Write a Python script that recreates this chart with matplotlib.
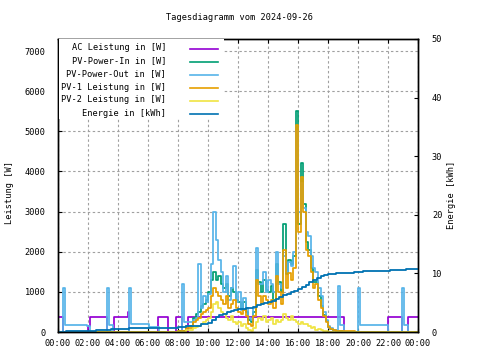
import numpy as np
import matplotlib
matplotlib.use('Agg')
import matplotlib.pyplot as plt
from matplotlib.patches import Rectangle
from matplotlib.lines import Line2D

# --- data (hours of day, W / kWh) ---
# day grid: 09:00 .. 18:30 in 10 min steps
day_t = [9 + i / 6 for i in range(58)]

ac_t = [0, 0.33, 2.0, 2.13, 3.27, 3.73, 4.67, 4.73, 6.67, 7.33, 7.87, 8.27, 8.67,
        19.07, 22.0, 22.93, 23.33, 24]
ac_v = [370, 0, 150, 370, 0, 370, 500, 0, 370, 0, 370, 0, 370,
        0, 370, 0, 370, 370]

pv_in_pre_t = [0, 8.0, 8.5]
pv_in_pre_v = [0, 30, 150]
pv_in_day = [350, 450, 500, 650, 700, 800, 1000, 1300, 1500, 1300,
             1400, 1200, 1100, 1200, 900, 1100, 1000, 800, 750, 600,
             750, 500, 300, 250, 500, 1550, 1250, 1000, 1300, 1050,
             1000, 1150, 800, 1700, 1250, 1000, 2700, 1450, 1800, 1700,
             1900, 5500, 2700, 4200, 3200, 2250, 2050, 1600, 1250, 1250,
             900, 650, 430, 270, 130, 80, 50, 20]
pv_in_eve_t = [18.67, 19.0, 24]
pv_in_eve_v = [20, 0, 0]

pv_out_pre_t = [0, 0.33, 0.45, 1.93, 2.13, 3.27, 3.4, 3.67, 4.73, 4.85, 6.07, 6.73, 8.27, 8.4]
pv_out_pre_v = [0, 1100, 175, 150, 0, 1100, 175, 0, 1100, 200, 125, 0, 1200, 250]
pv_out_day = [300, 350, 1700, 600, 900, 750, 950, 1700, 3000, 2300,
              1800, 1500, 1000, 1400, 800, 1100, 1650, 750, 1000, 550,
              850, 600, 350, 300, 600, 2100, 1200, 1200, 1500, 1000,
              1300, 1200, 1000, 2000, 1200, 1100, 1900, 1500, 1750, 1650,
              2000, 5000, 3000, 3700, 3100, 2500, 2400, 1900, 1600, 1500,
              1100, 900, 500, 300, 150, 100, 60, 30]
pv_out_eve_t = [18.67, 18.8, 19.07, 20.0, 20.13, 22.0, 22.93, 23.07, 23.33, 24]
pv_out_eve_v = [1150, 175, 0, 1100, 175, 0, 1100, 175, 0, 0]

pv1_pre_t = [0, 7.4, 8.0, 8.5]
pv1_pre_v = [0, 10, 30, 100]
pv1_day = [250, 300, 350, 450, 500, 550, 600, 900, 1100, 1000,
           900, 800, 700, 900, 600, 700, 800, 600, 500, 450,
           550, 400, 200, 150, 400, 1300, 900, 700, 900, 800,
           700, 800, 600, 1400, 1000, 700, 2050, 1100, 1470, 1300,
           1600, 5150, 2500, 3870, 3000, 2050, 1900, 1500, 1100, 1200,
           800, 600, 400, 250, 120, 80, 50, 30]
pv1_eve_t = [18.67, 19.8, 24]
pv1_eve_v = [20, 0, 0]

pv2_pre_t = [0, 8.5]
pv2_pre_v = [0, 50]
pv2_day = [100, 120, 150, 200, 250, 300, 350, 500, 700, 750,
           600, 500, 450, 350, 300, 400, 250, 200, 250, 150,
           200, 100, 50, 30, 100, 250, 350, 300, 400, 250,
           300, 350, 200, 300, 250, 300, 450, 350, 300, 400,
           300, 250, 200, 250, 200, 200, 150, 100, 120, 60,
           80, 40, 30, 20, 10, 0, 0, 0]
pv2_eve_t = [18.67, 24]
pv2_eve_v = [0, 0]

energy_t = [0, 0.5, 1.3, 2.5, 3.5, 4.7, 6.0, 7.0, 8.0, 8.5, 9.0, 9.5, 10.0, 10.25,
            10.5, 10.75, 11.0, 11.25, 11.5, 11.75, 12.0, 12.5, 13.0, 13.25, 13.5,
            13.75, 14.0, 14.25, 14.5, 14.75, 15.0, 15.25, 15.5, 15.75, 16.0, 16.25,
            16.5, 16.75, 17.0, 17.25, 17.5, 17.75, 18.0, 18.5, 19.3, 19.7, 20.3,
            21.3, 22.1, 23.2, 24]
energy_v = [0, 0.1, 0.2, 0.35, 0.5, 0.6, 0.7, 0.75, 0.85, 0.95, 1.1, 1.3, 1.6, 2.1,
            2.6, 2.9, 3.1, 3.35, 3.6, 3.75, 3.9, 4.05, 4.3, 4.55, 4.8,
            4.95, 5.1, 5.35, 5.6, 5.95, 6.3, 6.55, 6.8, 7.05, 7.3, 7.7,
            8.1, 8.5, 8.9, 9.25, 9.6, 9.8, 9.9, 10.0, 10.15, 10.25, 10.35,
            10.45, 10.55, 10.7, 10.7]

labels = ['AC Leistung in [W]', 'PV-Power-In in [W]', 'PV-Power-Out in [W]',
          'PV-1 Leistung in [W]', 'PV-2 Leistung in [W]', 'Energie in [kWh]']
colors = ['#9400d3', '#009e73', '#56b4e9', '#e69f00', '#f0e442', '#0072b2']

FONT = 'DejaVu Sans Mono'
FS = 6.2
W, H = 480, 360


def fx(px):
    return px / W


def fy(py):
    return 1 - py / H


def join(pre_t, pre_v, day_v, eve_t, eve_v):
    return pre_t + day_t + eve_t, pre_v + day_v + eve_v


def main():
    plt.rcParams['font.family'] = FONT
    fig = plt.figure(figsize=(4.8, 3.6), dpi=100)
    ax = fig.add_axes([fx(58), fy(332), fx(360), 293 / H])
    ax2 = ax.twinx()

    series = [
        (ac_t, ac_v),
        join(pv_in_pre_t, pv_in_pre_v, pv_in_day, pv_in_eve_t, pv_in_eve_v),
        join(pv_out_pre_t, pv_out_pre_v, pv_out_day, pv_out_eve_t, pv_out_eve_v),
        join(pv1_pre_t, pv1_pre_v, pv1_day, pv1_eve_t, pv1_eve_v),
        join(pv2_pre_t, pv2_pre_v, pv2_day, pv2_eve_t, pv2_eve_v),
    ]
    for (t, v), c in zip(series, colors):
        ax.step(t, v, where='post', color=c, lw=1.25)
    ax2.step(energy_t, energy_v, where='post', color=colors[5], lw=1.3)

    ax.set_xlim(0, 24)
    ax.set_ylim(0, 7300)
    ax2.set_ylim(0, 50)
    ax.set_xticks(range(0, 25, 2))
    ax.set_xticklabels(['%02d:00' % (h % 24) for h in range(0, 25, 2)])
    ax.set_yticks(range(0, 7001, 1000))
    ax2.set_yticks(range(0, 51, 10))
    ax.grid(True, color='#a0a0a0', linestyle=(0, (2.2, 2.2)), lw=0.8)
    ax.set_axisbelow(True)

    ax.tick_params(axis='x', direction='in', length=3, pad=5, labelsize=FS, top=True)
    ax.tick_params(axis='y', direction='in', length=3, pad=9, labelsize=FS)
    ax2.tick_params(axis='y', direction='in', length=3, pad=10, labelsize=FS)
    for a in (ax, ax2):
        for s in a.spines.values():
            s.set_linewidth(1.0)

    fig.text(0.5, fy(18), 'Tagesdiagramm vom 2024-09-26', ha='center', va='center', fontsize=FS)
    fig.text(fx(10), fy(193), 'Leistung [W]', rotation=90, ha='center', va='center', fontsize=FS)
    fig.text(fx(452), fy(195), 'Energie [kWh]', rotation=90, ha='center', va='center', fontsize=FS)

    # gnuplot-like key: right aligned text, sample line, opaque background
    fig.add_artist(Rectangle((fx(59), fy(119)), fx(224 - 59), 80 / H,
                             transform=fig.transFigure, facecolor='white',
                             edgecolor='none', zorder=3))
    for i, (lab, c) in enumerate(zip(labels, colors)):
        yy = 49 + 13 * i
        fig.text(fx(166), fy(yy - 1), lab, ha='right', va='center', fontsize=FS, zorder=4)
        fig.add_artist(Line2D([fx(190), fx(218)], [fy(yy), fy(yy)], color=c,
                              lw=1.2, transform=fig.transFigure, zorder=4))

    fig.savefig('out.png', dpi=100)


if __name__ == '__main__':
    main()
